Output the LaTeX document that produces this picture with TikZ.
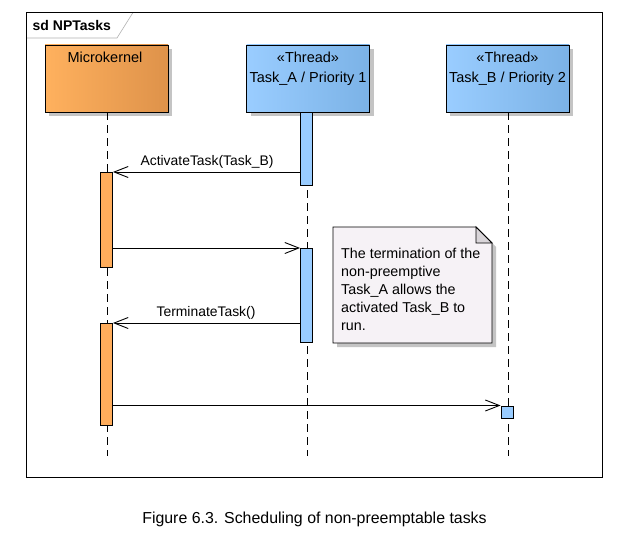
\documentclass[tikz,border=0pt]{standalone}
\usepackage{fontspec}
\setmainfont{Liberation Sans}
\usetikzlibrary{arrows.meta}
\definecolor{orL}{HTML}{FFB15E}
\definecolor{orR}{HTML}{DE924A}
\definecolor{blL}{HTML}{9ACDFF}
\definecolor{blR}{HTML}{7BB2E6}
\definecolor{barO}{HTML}{FFAD5C}
\definecolor{barB}{HTML}{99CCFF}
\definecolor{shad}{HTML}{C4C4C4}
\definecolor{notef}{HTML}{F6F2F6}
\definecolor{foldf}{HTML}{D9D5D9}
\tikzset{
  headbox/.style={draw=black, line width=0.9pt, minimum width=123pt, minimum height=67pt, inner sep=0pt},
  shadowbox/.style={fill=shad, draw=none, minimum width=123pt, minimum height=67pt, inner sep=0pt},
  lbl/.style={font=\fontsize{13.9}{15}\selectfont, inner sep=0pt},
  hlbl/.style={font=\fontsize{14.5}{16}\selectfont, inner sep=0pt},
  lifeline/.style={line width=0.9pt, dash pattern=on 8pt off 5pt},
  actbar/.style={draw=black, line width=0.9pt, minimum width=12pt, inner sep=0pt, anchor=north},
  msg/.style={line width=0.9pt, -{Straight Barb[length=14pt,width=11pt,line width=0.9pt]}},
}
\begin{document}
\begin{tikzpicture}[x=1pt,y=-1pt]
\useasboundingbox[fill=white] (0,0) rectangle (624,543);
% frame
\draw[line width=0.6pt, draw=black!30, fill=white] (26.5,12.5) -- (133,12.5) -- (117,38) -- (26.5,38) -- cycle;
\draw[line width=0.9pt] (26,12) -- (602,12) -- (602,477) -- (26,477) -- cycle;
\node[font=\bfseries\fontsize{14}{15}\selectfont, anchor=west, inner sep=0pt] (title) at (32.5,25) {sd NPTasks};
% shadows
\node[shadowbox] (mks) at (110.5,82.5) {};
\node[shadowbox] (tas) at (312,82.5) {};
\node[shadowbox] (tbs) at (511.5,82.5) {};
% heads
\node[headbox, left color=orL, right color=orR] (mk) at (106.5,78.5) {};
\node[headbox, left color=blL, right color=blR] (ta) at (308,78.5) {};
\node[headbox, left color=blL, right color=blR] (tb) at (507.5,78.5) {};
\node[hlbl] (mkt) at (105,57) {Microkernel};
\node[hlbl] (tat1) at (308,57) {«Thread»};
\node[hlbl] (tat2) at (308,79) {Task\_A / Priority 1};
\node[hlbl] (tbt1) at (507.5,57) {«Thread»};
\node[hlbl] (tbt2) at (507.5,79) {Task\_B / Priority 2};
% lifelines
\coordinate (mkend) at (107.3,456);
\coordinate (taend) at (307.7,456);
\coordinate (tbend) at (508,456);
\draw[lifeline] (mk.south -| mkend) -- (mkend);
\draw[lifeline] (ta.south -| taend) -- (taend);
\draw[lifeline] (tb.south -| tbend) -- (tbend);
% activation bars
\node[actbar, fill=barB, minimum height=73pt] (ta1) at (306.5,112) {};
\node[actbar, fill=barO, minimum height=95pt] (mb1) at (106.5,172) {};
\node[actbar, fill=barB, minimum height=94pt] (ta2) at (306.5,248) {};
\node[actbar, fill=barO, minimum height=102pt] (mb2) at (106.5,323) {};
\node[actbar, fill=barB, minimum height=12pt] (tb1) at (507,405.5) {};
% messages
\draw[msg] (ta1.west |- mb1.north) -- (mb1.north east);
\node[lbl] (m1) at (207,161.5) {ActivateTask(Task\_B)};
\draw[msg] (mb1.east |- ta2.north) -- (ta2.north west);
\draw[msg] (ta2.west |- mb2.north) -- (mb2.north east);
\node[lbl] (m3) at (206,312.5) {TerminateTask()};
\draw[msg] (mb2.east |- tb1.north) -- (tb1.north west);
% note
\fill[shad] (337,231) -- (480,231) -- (496,247) -- (496,347) -- (337,347) -- cycle;
\draw[line width=0.9pt, fill=notef] (333,227) -- (476,227) -- (492,243) -- (492,343) -- (333,343) -- cycle;
\draw[line width=0.9pt, fill=foldf] (476,227) -- (476,243) -- (492,243) -- cycle;
\node[inner sep=0pt, anchor=north west, align=left, font=\fontsize{14.3}{18}\selectfont] (note) at (341,248) {The termination of the\\non-preemptive\\Task\_A allows the\\activated Task\_B to\\run.};
% caption
\node[font=\fontsize{15.9}{17}\selectfont, inner sep=0pt] (cap) at (314.5,519) {Figure 6.3. Scheduling of non-preemptable tasks};
\end{tikzpicture}
\end{document}
